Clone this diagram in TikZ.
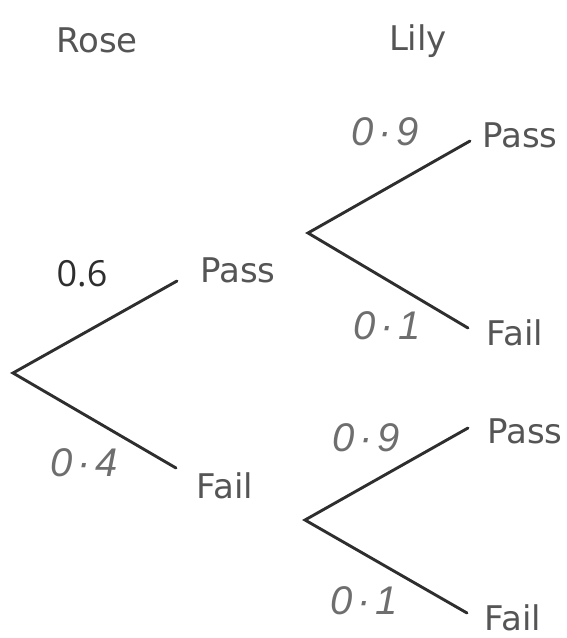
\documentclass[tikz,border=0pt]{standalone}
\usepackage{fontspec}
\setmainfont{DejaVu Sans}
\newfontfamily\numfont{Open Sans}
\newfontfamily\handfont{Liberation Sans}
\definecolor{linec}{HTML}{2E2E2E}
\definecolor{labc}{HTML}{555555}
\definecolor{handc}{HTML}{6E6E6E}
\newcommand{\hp}[2]{#1\hspace{5pt}·\hspace{5pt}#2}
\begin{document}
\begin{tikzpicture}[x=1pt,y=-1pt,
  branch/.style={line width=2.9pt, draw=linec, line cap=round},
  lbl/.style={font=\fontsize{34}{40}\selectfont, text=labc, inner sep=0pt, anchor=base},
  prob/.style={font=\handfont\itshape\fontsize{40}{44}\selectfont, text=handc, inner sep=0pt},
  given/.style={font=\numfont\fontsize{36}{40}\selectfont, text=linec, inner sep=0pt}]
\useasboundingbox (0,0) rectangle (567,638);
% headings
\node[lbl] (rose) at (97,52) {Rose};
\node[lbl] (lily) at (418,50) {Lily};
% branch points
\coordinate (r1) at (13,373);
\coordinate (p1) at (177,281);
\coordinate (f1) at (176,468);
\coordinate (r2) at (308,233);
\coordinate (p2) at (470,141);
\coordinate (f2) at (468,328);
\coordinate (r3) at (305,520);
\coordinate (p3) at (468,428);
\coordinate (f3) at (467,613);
\draw[branch] (p1) -- (r1) -- (f1);
\draw[branch] (p2) -- (r2) -- (f2);
\draw[branch] (p3) -- (r3) -- (f3);
% outcome labels
\node[lbl] (pass1) at (238,282) {Pass};
\node[lbl] (fail1) at (225,498) {Fail};
\node[lbl] (pass2) at (520,147) {Pass};
\node[lbl] (fail2) at (515,345) {Fail};
\node[lbl] (pass3) at (525,443) {Pass};
\node[lbl] (fail3) at (513,630) {Fail};
% probabilities
\node[given] (q1) at (82,274) {0.6};
\node[prob] (q2) at (84,463) {\hp{0}{4}};
\node[prob] (q3) at (385,132) {\hp{0}{9}};
\node[prob] (q4) at (387,326) {\hp{0}{1}};
\node[prob] (q5) at (366,438) {\hp{0}{9}};
\node[prob] (q6) at (364,601) {\hp{0}{1}};
\end{tikzpicture}
\end{document}
